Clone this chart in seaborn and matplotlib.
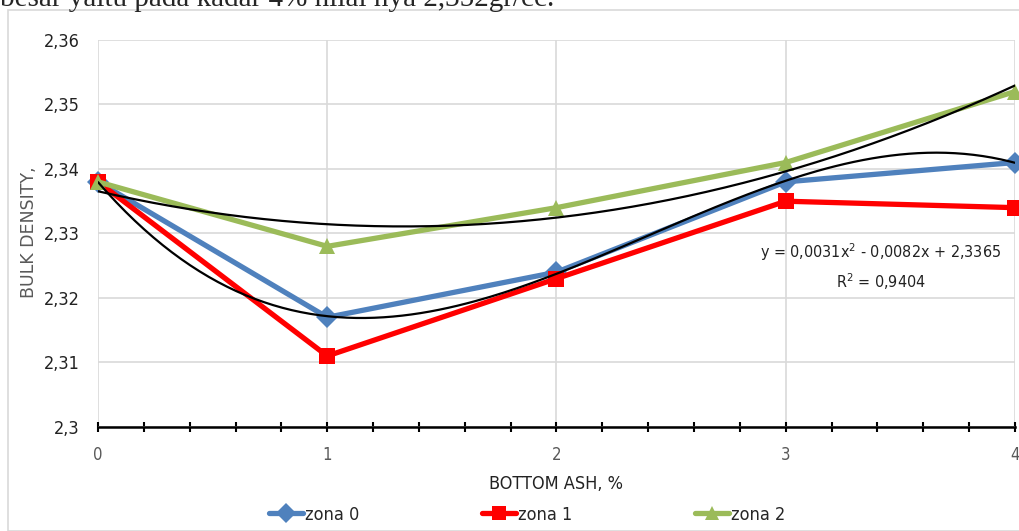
import numpy as np
import pandas as pd
import seaborn as sns
import matplotlib.pyplot as plt
from matplotlib.patches import Rectangle
from matplotlib.ticker import MultipleLocator, FuncFormatter

bottom_ash = [0, 1, 2, 3, 4]
zona_0 = [2.338, 2.317, 2.324, 2.338, 2.341]
zona_1 = [2.338, 2.311, 2.323, 2.335, 2.334]
zona_2 = [2.338, 2.328, 2.334, 2.341, 2.352]
series_names = ["zona 0", "zona 1", "zona 2"]
colors = ["#4F81BD", "#FF0000", "#9BBB59"]
markers = ["D", "s", "^"]

df = pd.DataFrame({
    "x": bottom_ash * 3,
    "y": zona_0 + zona_1 + zona_2,
    "zona": sum([[n] * 5 for n in series_names], []),
})

sns.set_theme(style="white")
plt.rcParams["font.family"] = ["DejaVu Sans"]
plt.rcParams["font.stretch"] = "condensed"

fig = plt.figure(figsize=(10.19, 5.31), dpi=100)
ax = fig.add_axes([0.0962, 0.196, 0.8998, 0.7287])

# outer chart border and the cut-off sentence above it
fig.patches.append(Rectangle((8 / 1019, 0), 1.2, 1 - 10 / 531, transform=fig.transFigure,
                             fill=False, edgecolor="#D9D9D9", linewidth=1.2))
fig.text(0.0, 1 - 6 / 531, "besar yaitu pada kadar 4% nilai nya 2,352gr/cc.",
         family=["Liberation Serif", "DejaVu Serif"], fontsize=21, va="baseline", ha="left")

ax.grid(True, color="#D9D9D9", linewidth=1.2)
ax.set_axisbelow(True)

sns.lineplot(data=df, x="x", y="y", hue="zona", style="zona", palette=colors,
             markers=markers, dashes=False, linewidth=3.8, markersize=11,
             markeredgewidth=0, ax=ax, clip_on=False, zorder=3)

# trendlines
xs = np.linspace(0, 4, 200)
c0 = np.polyfit(bottom_ash, zona_0, 3)
c2 = np.polyfit(bottom_ash, zona_2, 2)
ax.plot(xs, np.polyval(c0, xs), color="black", linewidth=1.6, zorder=4)
ax.plot(xs, np.polyval(c2, xs), color="black", linewidth=1.6, zorder=4)

ax.text(3.415, 2.3271, "y = 0,0031x$^2$ - 0,0082x + 2,3365", ha="center", va="center",
        fontsize=11.5, color="#222222")
ax.text(3.415, 2.3225, "R$^2$ = 0,9404", ha="center", va="center", fontsize=11.5, color="#222222")

ax.set_xlim(0, 4)
ax.set_ylim(2.3, 2.36)
ax.xaxis.set_major_locator(MultipleLocator(1))
ax.xaxis.set_minor_locator(MultipleLocator(0.2))
ax.yaxis.set_major_locator(MultipleLocator(0.01))
ax.yaxis.set_major_formatter(FuncFormatter(lambda v, p: f"{v:g}".replace(".", ",")))

for s in ["top", "right", "left"]:
    ax.spines[s].set_visible(False)
ax.spines["bottom"].set_color("black")
ax.spines["bottom"].set_linewidth(1.8)
ax.spines["bottom"].set_zorder(5)
ax.tick_params(axis="x", which="both", direction="inout", length=7, width=1.5,
               color="black", labelsize=12, labelcolor="#595959", pad=10, bottom=True)
ax.tick_params(axis="y", length=0, labelsize=13, labelcolor="#222222", pad=13)

ax.set_xlabel("BOTTOM ASH, %", fontsize=13, color="#222222", labelpad=8)
ax.set_ylabel("BULK DENSITY,", fontsize=12.5, color="#595959",
              family="DejaVu Sans", fontstretch="normal")
ax.yaxis.set_label_coords(-0.0654, 0.504)

ax.legend(title=None, ncol=3, loc="center", bbox_to_anchor=(0.468, -0.227),
          frameon=False, fontsize=13, columnspacing=6.8, handlelength=1.9,
          handletextpad=0.1, markerscale=0.9)

fig.savefig("out.png", dpi=100)
